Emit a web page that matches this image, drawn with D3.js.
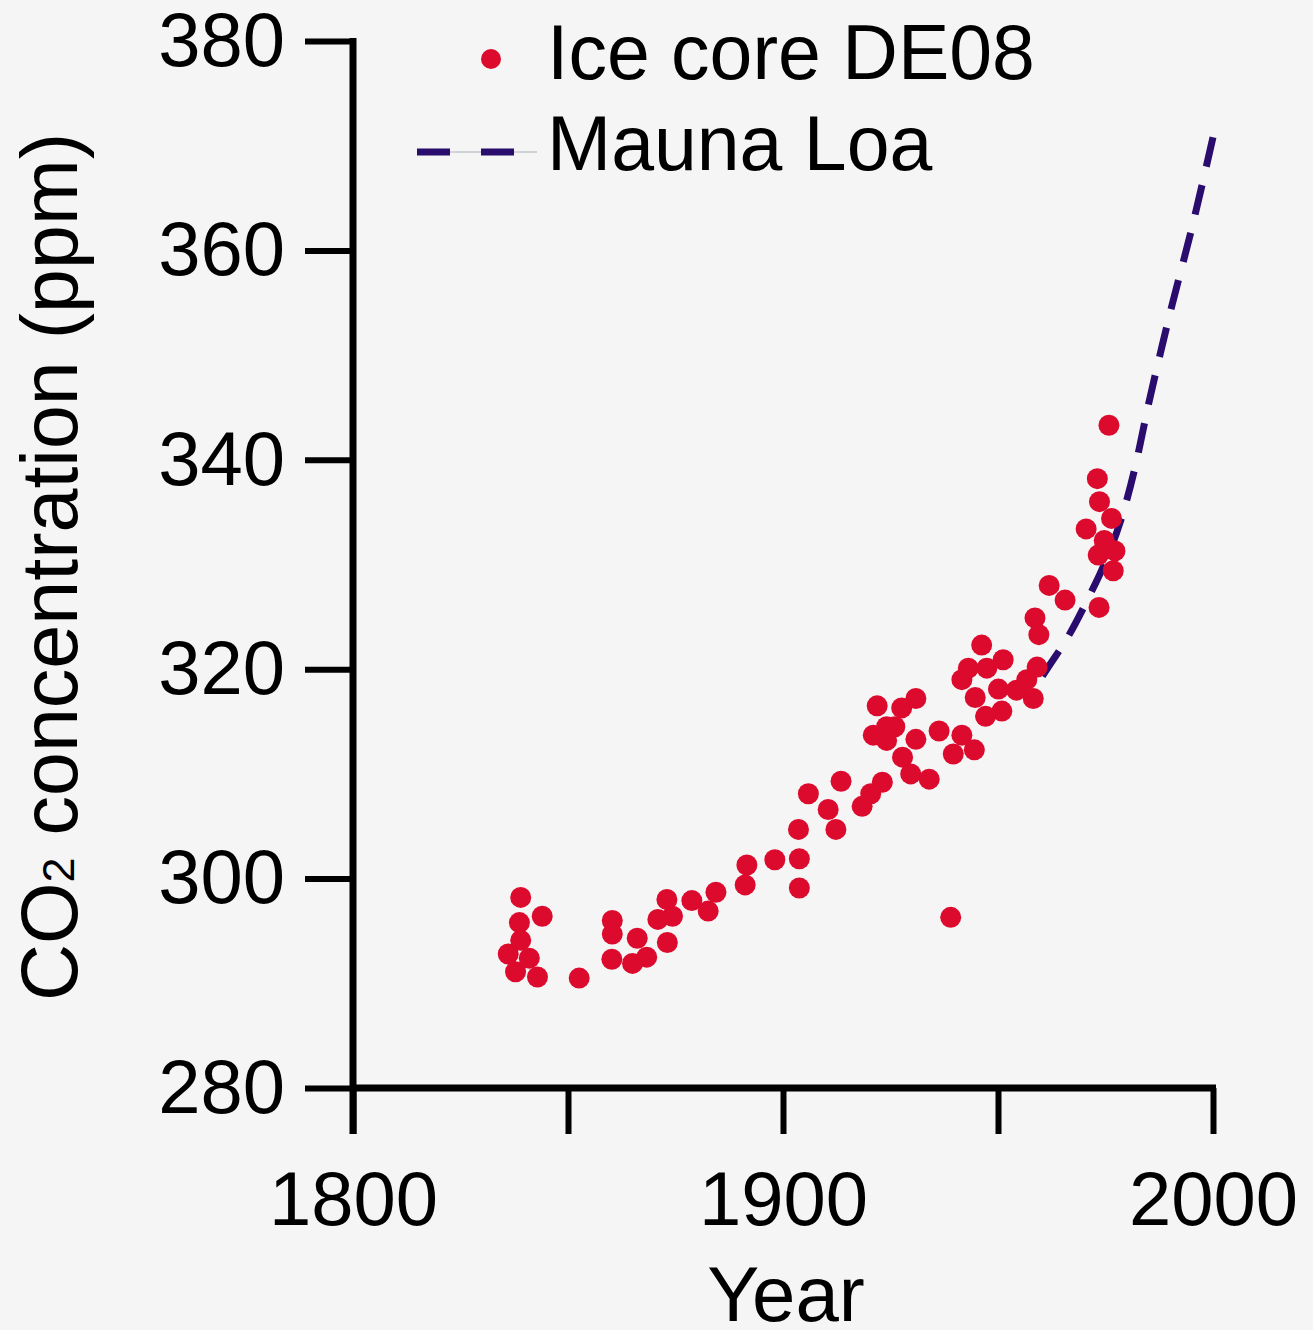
<!DOCTYPE html>
<html>
<head>
<meta charset="utf-8">
<script src="https://cdn.jsdelivr.net/npm/d3@7"></script>
<style>
    body { margin: 0; background: #f5f5f6; }
    svg { display: block; font-family: "Liberation Sans", Arial, Helvetica, sans-serif; }
</style>
</head>
<body>
<svg id="chart"></svg>
<script>
// Ice core DE08 samples
const iceYears = [1836.1, 1837.8, 1838.7, 1839.0, 1839.0, 1841.0, 1842.9, 1844.0, 1852.6,
    1860.3, 1860.3, 1860.2, 1865.0, 1866.1, 1868.3, 1870.9, 1873.0, 1873.1, 1874.3, 1878.8,
    1882.6, 1884.4, 1891.2, 1891.6, 1898.1, 1903.6, 1903.8, 1903.8, 1905.9, 1910.5, 1912.3,
    1913.5, 1918.4, 1920.4, 1921.0, 1921.9, 1923.1, 1924.1, 1924.1, 1926.0, 1927.6, 1927.8,
    1929.7, 1930.9, 1930.9, 1934.0, 1936.3, 1939.0, 1939.6, 1941.6, 1941.6, 1943.1, 1944.5,
    1944.7, 1946.2, 1947.1, 1947.4, 1950.1, 1950.9, 1951.2, 1954.3, 1956.7, 1958.2, 1959.1,
    1958.6, 1959.5, 1961.9, 1965.6, 1970.5, 1973.1, 1973.3, 1973.5, 1973.6, 1974.7, 1975.8,
    1976.4, 1976.8, 1977.2];
const icePpm = [292.8, 291.1, 295.8, 298.2, 294.1, 292.4, 290.6, 296.4, 290.5,
    296.0, 294.7, 292.3, 291.9, 294.3, 292.5, 296.1, 298.0, 293.9, 296.4, 297.9,
    296.9, 298.7, 299.4, 301.3, 301.8, 304.7, 301.9, 299.1, 308.1, 306.6, 304.7,
    309.3, 306.9, 308.1, 313.7, 316.5, 309.2, 314.5, 313.2, 314.5, 316.3, 311.6,
    310.0, 317.2, 313.3, 309.5, 314.1, 296.3, 311.9, 313.7, 319.0, 320.1, 312.3,
    317.3, 322.3, 315.5, 320.1, 318.1, 316.0, 320.9, 318.0, 319.0, 317.2, 320.2,
    324.9, 323.3, 328.0, 326.6, 333.4, 338.2, 330.9, 325.9, 336.0, 332.3, 343.3,
    334.4, 329.4, 331.3];

// Mauna Loa record
const mlYears = [1959, 1962, 1966, 1971, 1975, 1979, 1982, 1985, 1988, 1990, 1995, 2000];
const mlPpm = [318.5, 320.4, 322.9, 326.8, 330.3, 334.8, 339.5, 345.3, 350.6, 354.0, 362.0, 370.8];

// axis ticks
const xTicks = [1800, 1850, 1900, 1950, 2000];
const xLabels = [1800, 1900, 2000];
const yTicks = [280, 300, 320, 340, 360, 380];

const seriesNames = ['Ice core DE08', 'Mauna Loa'];

class ScatterChart {

    constructor(_config) {
        this.config = {
            parentElement: _config.parentElement,
            containerWidth: _config.containerWidth || 1313,
            containerHeight: _config.containerHeight || 1330,
            margin: _config.margin || {top: 41, right: 100, bottom: 242, left: 353}
        }
        this.initVis();
    }

    initVis() {
        let vis = this;

        vis.width = vis.config.containerWidth - vis.config.margin.left - vis.config.margin.right;
        vis.height = vis.config.containerHeight - vis.config.margin.top - vis.config.margin.bottom;

        vis.xScale = d3.scaleLinear()
            .domain([1800, 2000])
            .range([0, vis.width]);

        vis.yScale = d3.scaleLinear()
            .domain([280, 380])
            .range([vis.height, 0]);

        vis.xAxis = d3.axisBottom(vis.xScale)
            .tickValues(xTicks)
            .tickSize(46)
            .tickPadding(37)
            .tickFormat(d => xLabels.includes(d) ? d : '');

        vis.yAxis = d3.axisLeft(vis.yScale)
            .tickValues(yTicks)
            .tickSize(48)
            .tickPadding(20);

        vis.svg = d3.select(vis.config.parentElement)
            .attr('width', vis.config.containerWidth)
            .attr('height', vis.config.containerHeight);

        vis.svg.append('rect')
            .attr('width', vis.config.containerWidth)
            .attr('height', vis.config.containerHeight)
            .attr('fill', '#f5f5f6');

        vis.chart = vis.svg.append('g')
            .attr('transform', `translate(${vis.config.margin.left},${vis.config.margin.top})`);

        vis.xAxisG = vis.chart.append('g')
            .attr('class', 'axis x-axis')
            .attr('transform', `translate(0,${vis.height})`);

        vis.yAxisG = vis.chart.append('g')
            .attr('class', 'axis y-axis');
    }

    renderVis() {
        let vis = this;

        // axes
        vis.xAxisG.call(vis.xAxis);
        vis.yAxisG.call(vis.yAxis);

        vis.chart.selectAll('.axis .domain').remove();
        vis.chart.selectAll('.axis .tick line')
            .attr('stroke', '#000')
            .attr('stroke-width', 6);
        vis.chart.selectAll('.axis text')
            .attr('fill', '#000')
            .style('font-family', '"Liberation Sans", Arial, sans-serif')
            .style('font-size', '76px');

        // axis lines; the y axis runs down past the x axis
        vis.chart.append('line')
            .attr('x1', 0).attr('x2', 0)
            .attr('y1', -3).attr('y2', vis.height + 46)
            .attr('stroke', '#000')
            .attr('stroke-width', 7);

        vis.chart.append('line')
            .attr('x1', 0).attr('x2', vis.width + 3)
            .attr('y1', vis.height).attr('y2', vis.height)
            .attr('stroke', '#000')
            .attr('stroke-width', 7);

        // Mauna Loa dashed curve
        const mlData = mlYears.map((d, i) => ({year: d, ppm: mlPpm[i]}));
        const line = d3.line()
            .x(d => vis.xScale(d.year))
            .y(d => vis.yScale(d.ppm))
            .curve(d3.curveMonotoneX);

        const mlPath = vis.chart.append('path')
            .datum(mlData)
            .attr('d', line)
            .attr('fill', 'none')
            .attr('stroke', '#2a0c6e')
            .attr('stroke-width', 7)
            .attr('stroke-dasharray', '30,19');

        // make the last dash end at the top of the curve
        const len = mlPath.node().getTotalLength();
        mlPath.attr('stroke-dashoffset', 30 - (len % 49));

        // ice core dots
        const iceData = iceYears.map((d, i) => ({year: d, ppm: icePpm[i]}));
        vis.chart.selectAll('.dot')
            .data(iceData)
            .enter()
            .append('circle')
            .attr('class', 'dot')
            .attr('cx', d => vis.xScale(d.year))
            .attr('cy', d => vis.yScale(d.ppm))
            .attr('r', 10.5)
            .attr('fill', '#dc0a2d');

        // axis titles
        vis.svg.append('text')
            .attr('x', 786)
            .attr('y', 1321)
            .attr('text-anchor', 'middle')
            .style('font-size', '78px')
            .text('Year');

        const yTitle = vis.svg.append('text')
            .attr('transform', 'translate(77,567) rotate(-90)')
            .attr('text-anchor', 'middle')
            .style('font-size', '79px');
        yTitle.append('tspan').text('CO');
        yTitle.append('tspan').attr('dy', -3).style('font-size', '45px').text('2');
        yTitle.append('tspan').attr('dy', 3).text(' concentration (ppm)');

        // legend
        const legend = vis.svg.append('g');
        legend.append('circle')
            .attr('cx', 491).attr('cy', 59)
            .attr('r', 10)
            .attr('fill', '#dc0a2d');
        legend.append('text')
            .attr('x', 547).attr('y', 79)
            .style('font-size', '77px')
            .text(seriesNames[0]);

        legend.append('line')
            .attr('x1', 417).attr('x2', 537)
            .attr('y1', 152).attr('y2', 152)
            .attr('stroke', '#c4c4cc')
            .attr('stroke-width', 1.5);
        legend.append('line')
            .attr('x1', 417).attr('x2', 514)
            .attr('y1', 152).attr('y2', 152)
            .attr('stroke', '#2a0c6e')
            .attr('stroke-width', 7)
            .attr('stroke-dasharray', '33,31');
        legend.append('text')
            .attr('x', 547).attr('y', 170)
            .style('font-size', '77px')
            .text(seriesNames[1]);
    }
}

const chart = new ScatterChart({parentElement: '#chart'});
chart.renderVis();
</script>
</body>
</html>
